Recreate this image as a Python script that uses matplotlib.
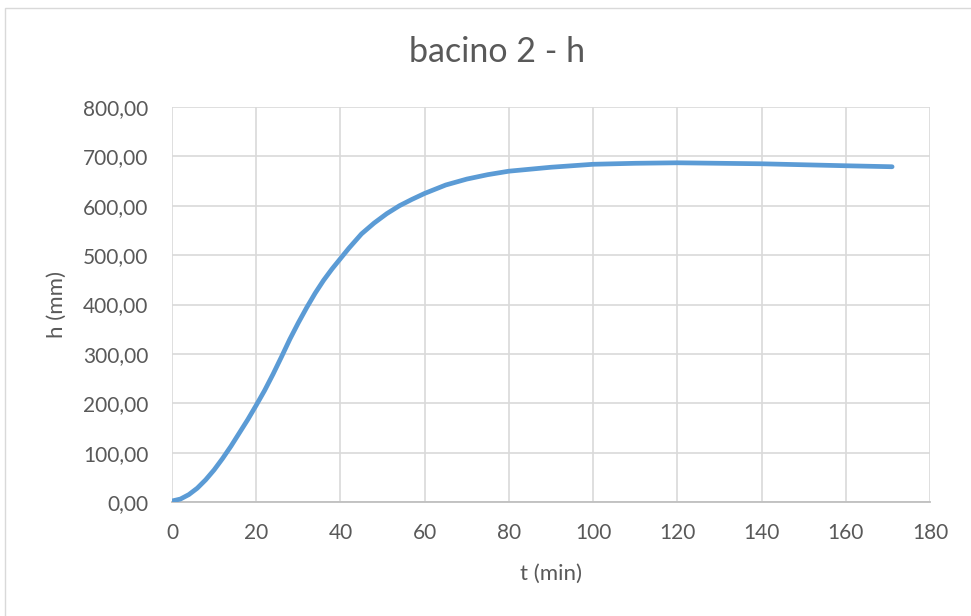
#!/usr/bin/env python3
# -*- coding: utf-8 -*-
"""
bacino 2 - h : livello nel bacino in funzione del tempo
"""

import matplotlib
matplotlib.use("Agg")
import matplotlib.pyplot as plt
from matplotlib.ticker import FuncFormatter, MultipleLocator
from matplotlib.patches import Rectangle

plt.rcParams['font.family'] = ['Lato', 'DejaVu Sans']

# dati
t_min = [0, 2, 4, 6, 8, 10, 12, 14, 16, 18, 20, 22, 24, 26, 28, 30, 32, 34, 36,
         38, 40, 42, 45, 48, 51, 54, 57, 60, 65, 70, 75, 80, 90, 100, 110, 120,
         130, 140, 150, 160, 171]
h_mm = [2, 6, 15, 28, 45, 65, 88, 113, 140, 167, 196, 226, 259, 294, 330, 363,
        394, 423, 449, 472, 493, 514, 543, 565, 584, 600, 613, 625, 642, 654,
        663, 670, 678, 684, 686, 687, 686, 685, 683, 681, 679]

TEXT_COLOR = '#595959'
LINE_COLOR = '#5b9bd5'
GRID_COLOR = '#d9d9d9'
W, H = 971, 616

fig = plt.figure(figsize=(W / 100, H / 100), dpi=100)
ax = fig.add_axes([172 / W, 1 - 502 / H, (930 - 172) / W, (502 - 107) / H])

ax.plot(t_min, h_mm, color=LINE_COLOR, linewidth=3.4,
        solid_capstyle='round', solid_joinstyle='round', zorder=3)

ax.set_xlim(0, 180)
ax.set_ylim(0, 800)
ax.xaxis.set_major_locator(MultipleLocator(20))
ax.yaxis.set_major_locator(MultipleLocator(100))
ax.yaxis.set_major_formatter(FuncFormatter(lambda v, p: f"{v:.2f}".replace('.', ',')))

ax.grid(True, color=GRID_COLOR, linewidth=1.2)
ax.set_axisbelow(True)
for side in ['top', 'right', 'left']:
    ax.spines[side].set_visible(False)
ax.spines['bottom'].set_color('#bfbfbf')
ax.spines['bottom'].set_linewidth(1.3)
ax.tick_params(length=0, labelsize=15, colors=TEXT_COLOR)
ax.tick_params(axis='y', pad=17)
ax.tick_params(axis='x', pad=15)

fig.text(551 / W, 1 - 574 / H, 't (min)', ha='center', va='center',
         fontsize=16, color=TEXT_COLOR)
fig.text(57 / W, 1 - 305 / H, 'h (mm)', ha='center', va='center',
         rotation=90, fontsize=16, color=TEXT_COLOR)
fig.text(497 / W, 1 - 52 / H, 'bacino 2 - h', ha='center', va='center',
         fontsize=24.5, color=TEXT_COLOR)

# bordo dell'area del grafico
fig.patches.append(Rectangle((5 / W, -0.1), 1.2, 1.1 - 8 / H,
                             transform=fig.transFigure, fill=False,
                             edgecolor=GRID_COLOR, linewidth=1.0))

fig.savefig('out.png', dpi=100)
